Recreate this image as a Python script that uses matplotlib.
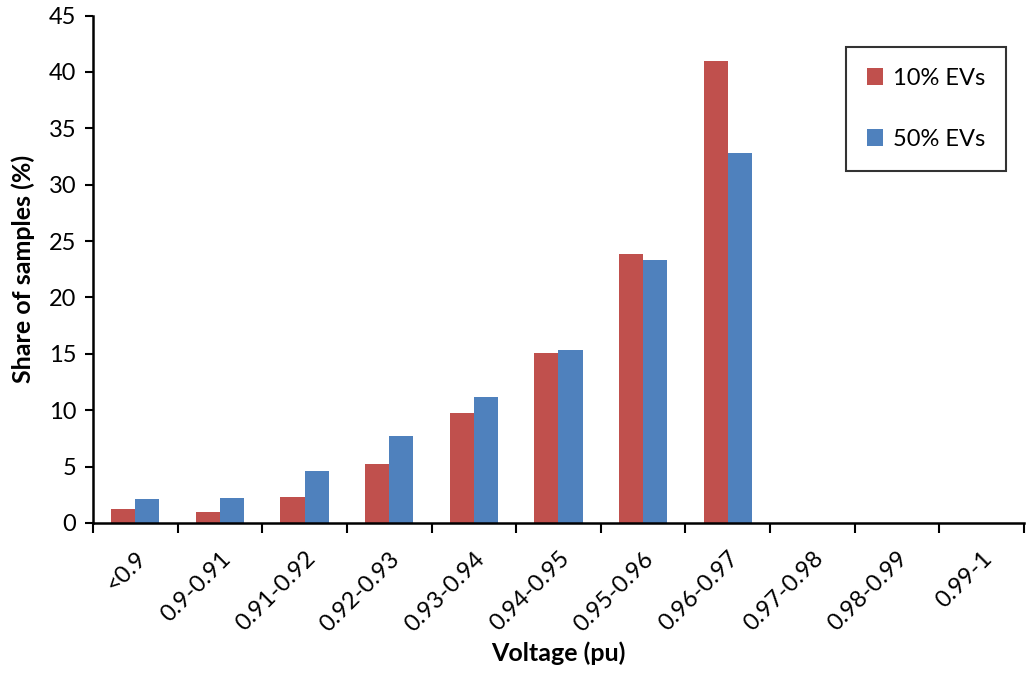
import matplotlib.pyplot as plt
import numpy as np

# Categorias de tensao (pu) e fracao de amostras (%) para cada cenario.
categories = ["<0.9", "0.9-0.91", "0.91-0.92", "0.92-0.93", "0.93-0.94",
              "0.94-0.95", "0.95-0.96", "0.96-0.97", "0.97-0.98",
              "0.98-0.99", "0.99-1"]
ev10 = [1.25, 1.0, 2.3, 5.2, 9.75, 15.05, 23.85, 40.95, 0, 0, 0]
ev50 = [2.15, 2.2, 4.65, 7.75, 11.15, 15.35, 23.3, 32.8, 0, 0, 0]

plt.rcParams["font.family"] = ["Lato", "DejaVu Sans"]

fig = plt.figure(figsize=(10.27, 6.77), dpi=100)
ax = fig.add_axes([0.0906, 0.2275, 0.9064, 0.7495])

x = np.arange(len(categories))
w = 0.285
ax.bar(x - w / 2, ev10, width=w, color="#C0504D", label="10% EVs")
ax.bar(x + w / 2, ev50, width=w, color="#4F81BD", label="50% EVs")

ax.set_xlim(-0.5, len(categories) - 0.5)
ax.set_ylim(0, 45)
ax.set_yticks(np.arange(0, 46, 5))
ax.tick_params(axis="y", labelsize=17, length=6, width=1.5, direction="out", pad=6)

# Marcas do eixo x entre as categorias, rotulos girados no centro.
ax.set_xticks(np.arange(-0.5, len(categories), 1.0))
ax.set_xticklabels([])
ax.set_xticks(x, minor=True)
ax.set_xticklabels(categories, minor=True, rotation=45, ha="right",
                   rotation_mode="anchor", fontsize=17)
ax.tick_params(axis="x", which="major", length=7, width=1.5, direction="out")
ax.tick_params(axis="x", which="minor", length=0, pad=18)

for side in ("top", "right"):
    ax.spines[side].set_visible(False)
for side in ("left", "bottom"):
    ax.spines[side].set_linewidth(1.8)

ax.set_ylabel("Share of samples (%)", fontsize=18, fontweight="bold", labelpad=10)
ax.set_xlabel("Voltage (pu)", fontsize=18, fontweight="bold", labelpad=4)

leg = ax.legend(loc="upper right", bbox_to_anchor=(0.981, 0.939), fontsize=17,
                frameon=True, fancybox=False, edgecolor="black",
                handlelength=0.7, handleheight=0.7, handletextpad=0.4,
                labelspacing=1.7, borderpad=0.9, borderaxespad=0)
leg.get_frame().set_linewidth(1.5)

fig.savefig("out.png", dpi=100)
